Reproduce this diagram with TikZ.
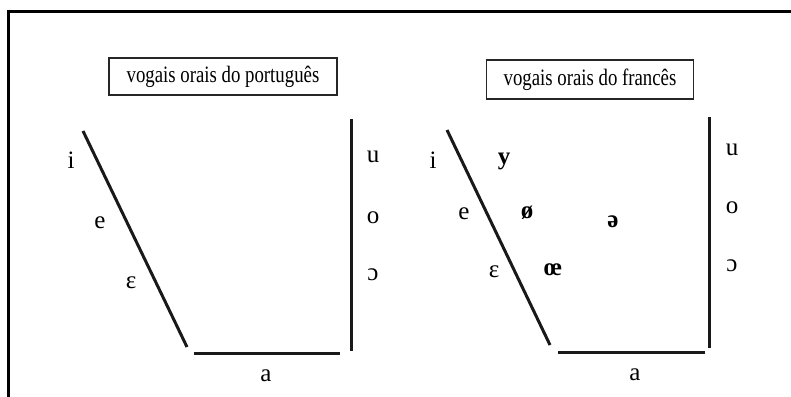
\documentclass[tikz,border=0pt]{standalone}
\usepackage{fontspec}
\setmainfont{Liberation Serif}
\newfontfamily\boxfont[FakeStretch=0.8]{Liberation Serif}
\tikzset{
  frame/.style={line width=3pt, black},
  chartline/.style={line width=3pt, black!90, line cap=butt},
  titlebox/.style={draw, line width=1.3pt, black!85, text=black, inner sep=0pt, font=\boxfont\fontsize{23.5}{25}\selectfont},
  vowel/.style={anchor=base, inner sep=0pt, font=\fontsize{25}{27}\selectfont, text=black},
  bvowel/.style={vowel, font=\bfseries\fontsize{25}{27}\selectfont},
}
\begin{document}
\begin{tikzpicture}[x=1pt, y=-1pt]
\useasboundingbox (0,0) rectangle (791,396);
% outer frame (cut by the picture edge)
\coordinate (fb) at (8,400);
\coordinate (fc) at (8,12);
\coordinate (fr) at (795,12);
\draw[frame] (fb) -- (fc) -- (fr);

% ---------- Portuguese ----------
\node[titlebox, minimum width=228pt, minimum height=37pt] (t1) at (223,76.5) {vogais orais do português};
\coordinate (p1) at (83,131);
\coordinate (p2) at (187,347);
\coordinate (p3) at (194,353);
\coordinate (p4) at (340,353);
\coordinate (p5) at (351,119);
\coordinate (p6) at (351,351);
\draw[chartline] (p1) -- (p2);
\draw[chartline] (p3) -- (p4);
\draw[chartline] (p5) -- (p6);
\node[vowel] (pi) at (71,168) {i};
\node[vowel] (pe) at (100,228) {e};
\node[vowel] (peps) at (131,288) {ε};
\node[vowel] (pu) at (373,162) {u};
\node[vowel] (po) at (373,223) {o};
\node[vowel] (poo) at (373,280) {ɔ};
\node[vowel] (pa) at (266,381) {a};

% ---------- French ----------
\node[titlebox, minimum width=207pt, minimum height=39pt] (t2) at (590,79.5) {vogais orais do francês};
\coordinate (f1) at (447,130);
\coordinate (f2) at (550,345);
\coordinate (f3) at (558,352);
\coordinate (f4) at (705,352);
\coordinate (f5) at (709,117);
\coordinate (f6) at (709,348);
\draw[chartline] (f1) -- (f2);
\draw[chartline] (f3) -- (f4);
\draw[chartline] (f5) -- (f6);
\node[vowel] (fi) at (433,168) {i};
\node[bvowel] (fy) at (504,164) {y};
\node[vowel] (fe) at (464,219) {e};
\node[bvowel] (foe) at (527,218) {ø};
\node[bvowel] (fschwa) at (613,227) {ə};
\node[vowel] (feps) at (494,277) {ε};
\node[bvowel] (foelig) at (553,275) {œ};
\node[vowel] (fu) at (732,155) {u};
\node[vowel] (fo) at (732,213) {o};
\node[vowel] (foo) at (732,271) {ɔ};
\node[vowel] (fa) at (635,380) {a};
\end{tikzpicture}
\end{document}
